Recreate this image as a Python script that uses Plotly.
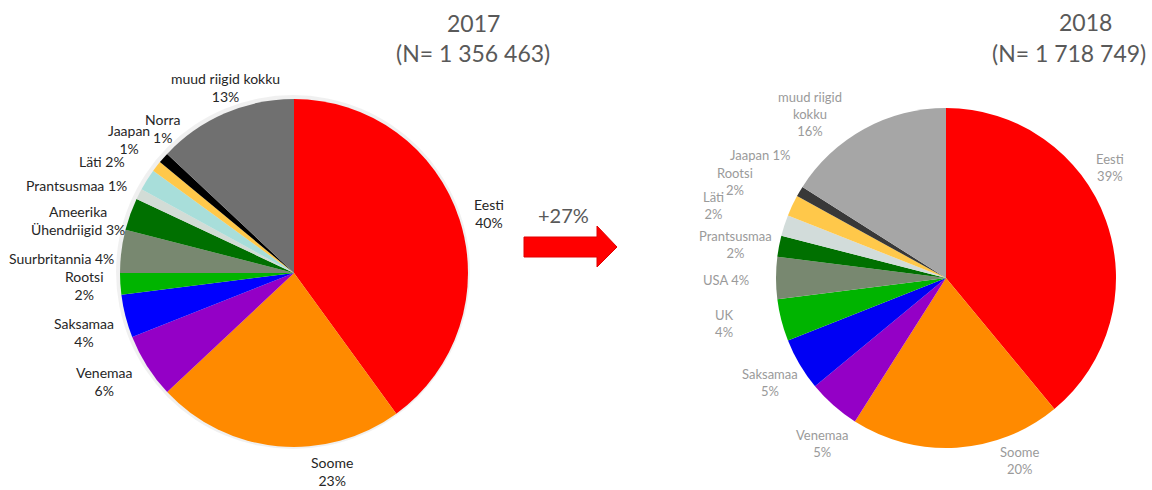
import plotly.graph_objects as go

W, H = 1152, 490

# ---------------- data ----------------
labels_2017 = ["Eesti", "Soome", "Venemaa", "Saksamaa", "Rootsi", "Suurbritannia",
               "Ameerika Ühendriigid", "Prantsusmaa", "Läti", "Jaapan", "Norra", "muud riigid kokku"]
values_2017 = [40, 23, 6, 4, 2, 4, 3, 1, 2, 1, 1, 13]
texts_2017 = ["Eesti<br>40%", "Soome<br>23%", "Venemaa<br>6%", "Saksamaa<br>4%", "Rootsi<br>2%",
              "Suurbritannia 4%", "Ameerika<br>Ühendriigid 3%", "Prantsusmaa 1%", "Läti 2%",
              "Jaapan<br>1%", "Norra<br>1%", "muud riigid kokku<br>13%"]
colors_2017 = ["#FF0000", "#FF8A00", "#9400C6", "#0000FF", "#00B400", "#788870",
               "#007000", "#D2DCD6", "#A8DEDA", "#FFC84A", "#000000", "#707070"]

labels_2018 = ["Eesti", "Soome", "Venemaa", "Saksamaa", "UK", "USA", "Prantsusmaa",
               "Läti", "Rootsi", "Jaapan", "muud riigid kokku"]
values_2018 = [39, 20, 5, 5, 4, 4, 2, 2, 2, 1, 16]
texts_2018 = ["Eesti<br>39%", "Soome<br>20%", "Venemaa<br>5%", "Saksamaa<br>5%", "UK<br>4%",
              "USA 4%", "Prantsusmaa<br>2%", "Läti<br>2%", "Rootsi<br>2%", "Jaapan 1%",
              "muud riigid<br>kokku<br>16%"]
colors_2018 = ["#FF0000", "#FF8A00", "#9400C6", "#0000F4", "#00B400", "#788870",
               "#007000", "#D2DCDA", "#FFC84A", "#383838", "#A6A6A6"]

title_2017 = ["2017", "(N= 1 356 463)"]
title_2018 = ["2018", "(N= 1 718 749)"]
change_text = "+27%"

# ---------------- layout helpers (pixel -> paper) ----------------
def px(x):
    return x / W

def py(y):
    return 1 - y / H

# label centres (pixels) for each slice
label_pos_2017 = [(489, 213), (332, 471), (104, 381), (84, 332), (84, 285), (61, 258),
                  (78, 220), (76, 185), (102, 162), (129, 139), (162, 128), (225, 88)]
label_pos_2018 = [(1110, 167), (1019, 460), (822, 443), (770, 382), (724, 323), (726, 280),
                  (735, 244), (713, 206), (735, 181), (760, 155), (810, 114)]

FONT = "Lato, 'Noto Sans', sans-serif"

fig = go.Figure()

# left pie: centre (294,273), r 174 ; right pie: centre (946,278), r 170
fig.add_trace(go.Pie(
    labels=labels_2017, values=values_2017, sort=False, direction="clockwise", rotation=0,
    marker=dict(colors=colors_2017, line=dict(width=0)),
    textinfo="none", hoverinfo="label+percent", showlegend=False,
    domain=dict(x=[px(120), px(468)], y=[py(447), py(99)]),
))
fig.add_trace(go.Pie(
    labels=labels_2018, values=values_2018, sort=False, direction="clockwise", rotation=0,
    marker=dict(colors=colors_2018, line=dict(width=0)),
    textinfo="none", hoverinfo="label+percent", showlegend=False,
    domain=dict(x=[px(776), px(1116)], y=[py(448), py(108)]),
))

annotations = []
for t, (x, y) in zip(texts_2017, label_pos_2017):
    annotations.append(dict(x=px(x), y=py(y), xref="paper", yref="paper", text=t, showarrow=False,
                            xanchor="center", yanchor="middle",
                            font=dict(family=FONT, size=14, color="#262626")))
for t, (x, y) in zip(texts_2018, label_pos_2018):
    annotations.append(dict(x=px(x), y=py(y), xref="paper", yref="paper", text=t, showarrow=False,
                            xanchor="center", yanchor="middle",
                            font=dict(family=FONT, size=13, color="#9A9A9A")))

# titles
for (t, (x, y)) in zip(title_2017, [(473, 23), (473, 53)]):
    annotations.append(dict(x=px(x), y=py(y), xref="paper", yref="paper", text=t, showarrow=False,
                            xanchor="center", yanchor="middle",
                            font=dict(family=FONT, size=23, color="#595959")))
annotations.append(dict(x=px(1085), y=py(22), xref="paper", yref="paper", text=title_2018[0],
                        showarrow=False, xanchor="center", yanchor="middle",
                        font=dict(family=FONT, size=23, color="#595959")))
annotations.append(dict(x=px(1148), y=py(53), xref="paper", yref="paper", text=title_2018[1],
                        showarrow=False, xanchor="right", yanchor="middle",
                        font=dict(family=FONT, size=23, color="#595959")))

annotations.append(dict(x=px(563), y=py(215), xref="paper", yref="paper", text=change_text,
                        showarrow=False, xanchor="center", yanchor="middle",
                        font=dict(family=FONT, size=20, color="#595959")))

# arrow shape
pts = [(524, 237), (597, 237), (597, 226), (617, 247), (597, 267), (597, 257), (524, 257)]
path = "M " + " L ".join(f"{px(x)},{py(y)}" for x, y in pts) + " Z"
shapes = [
    dict(type="path", path=path, xref="paper", yref="paper",
         fillcolor="#FF0000", line=dict(color="#E00000", width=1)),
    # soft shadow behind the left pie
    dict(type="circle", xref="paper", yref="paper", layer="below",
         x0=px(116), x1=px(470), y0=py(449), y1=py(95),
         fillcolor="rgba(0,0,0,0.06)", line=dict(width=0)),
]

fig.update_layout(
    width=W, height=H, margin=dict(l=0, r=0, t=0, b=0),
    paper_bgcolor="white", plot_bgcolor="white",
    annotations=annotations, shapes=shapes,
)

fig.write_html("out.html", config={"displayModeBar": False},
               post_script="document.body.style.margin='0';document.body.style.overflow='hidden';")
